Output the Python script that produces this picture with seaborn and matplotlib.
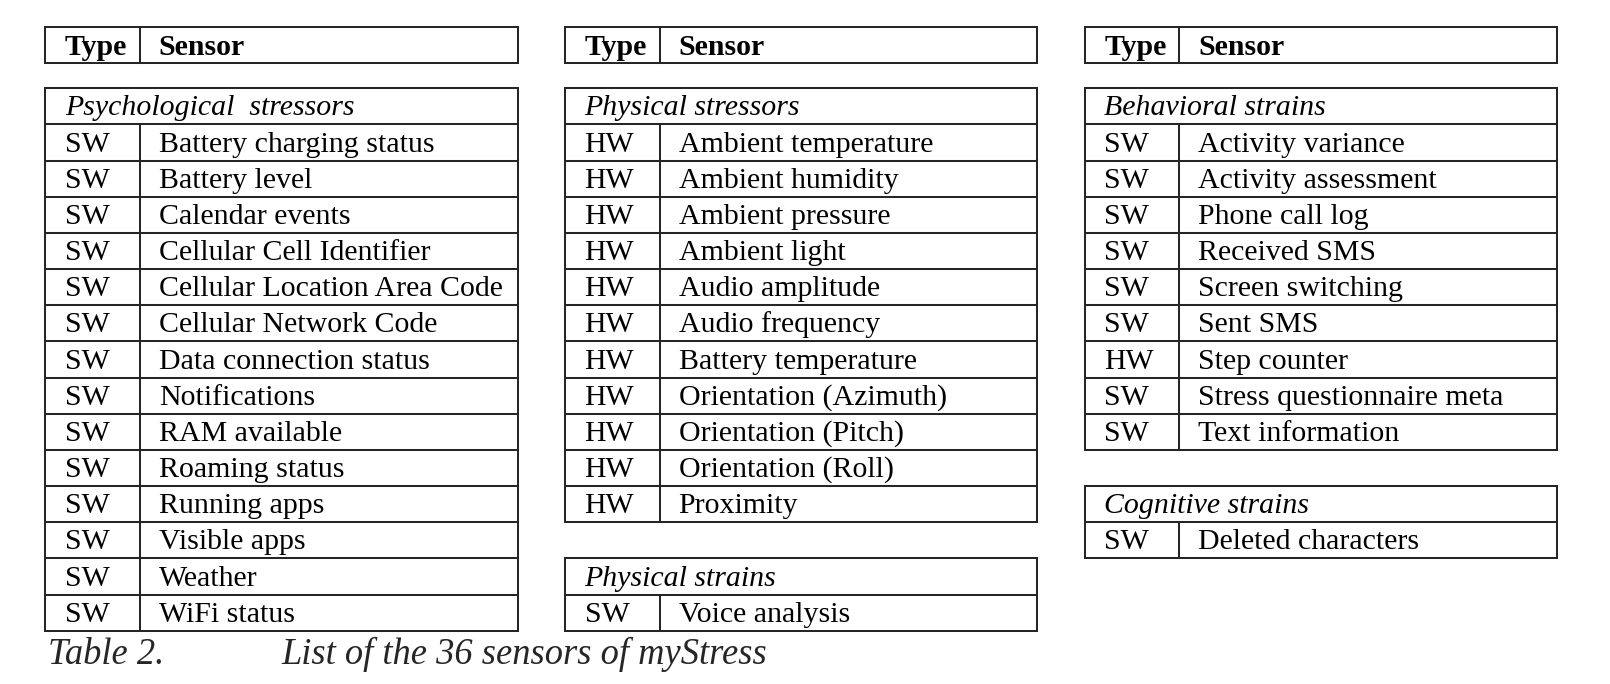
import matplotlib
matplotlib.use("Agg")
import matplotlib.pyplot as plt
import seaborn as sns

sns.set_style("white")
plt.rcParams['font.family'] = ['Liberation Serif', 'DejaVu Serif']

# table content
header = ["Type", "Sensor"]

psych_title = "Psychological  stressors"
psych_types = ["SW"] * 14
psych_sensors = ["Battery charging status", "Battery level", "Calendar events",
                 "Cellular Cell Identifier", "Cellular Location Area Code",
                 "Cellular Network Code", "Data connection status", "Notifications",
                 "RAM available", "Roaming status", "Running apps", "Visible apps",
                 "Weather", "WiFi status"]

phys_title = "Physical stressors"
phys_types = ["HW"] * 11
phys_sensors = ["Ambient temperature", "Ambient humidity", "Ambient pressure",
                "Ambient light", "Audio amplitude", "Audio frequency",
                "Battery temperature", "Orientation (Azimuth)", "Orientation (Pitch)",
                "Orientation (Roll)", "Proximity"]

pstrain_title = "Physical strains"
pstrain_types = ["SW"]
pstrain_sensors = ["Voice analysis"]

behav_title = "Behavioral strains"
behav_types = ["SW", "SW", "SW", "SW", "SW", "SW", "HW", "SW", "SW"]
behav_sensors = ["Activity variance", "Activity assessment", "Phone call log",
                 "Received SMS", "Screen switching", "Sent SMS", "Step counter",
                 "Stress questionnaire meta", "Text information"]

cog_title = "Cognitive strains"
cog_types = ["SW"]
cog_sensors = ["Deleted characters"]

columns = [
    [(psych_title, psych_types, psych_sensors)],
    [(phys_title, phys_types, phys_sensors), (pstrain_title, pstrain_types, pstrain_sensors)],
    [(behav_title, behav_types, behav_sensors), (cog_title, cog_types, cog_sensors)],
]

caption_num = "Table 2."
caption_txt = "List of the 36 sensors of myStress"

W, H = 1610, 684
fig = plt.figure(figsize=(W / 100, H / 100), dpi=100)
ax = fig.add_axes([0, 0, 1, 1])
ax.set_xlim(0, W)
ax.set_ylim(H, 0)
ax.axis("off")

lefts = [45.3, 565.0, 1084.7]
tw = 472.3
cw = 94.7
rh = 36.16
head_top = 26.7
head_h = 36.0
body_top = 88.3
lc = "#262626"
lw = 1.45
fs = 21.5


def box(x0, y0, x1, y1):
    ax.plot([x0, x1, x1, x0, x0], [y0, y0, y1, y1, y0], color=lc, lw=lw,
            solid_joinstyle="miter", solid_capstyle="projecting")


def row(x0, y, h, t, s, bold=False, base=9):
    box(x0, y, x0 + tw, y + h)
    ax.plot([x0 + cw, x0 + cw], [y, y + h], color=lc, lw=lw)
    fw = "bold" if bold else "normal"
    ax.text(x0 + 19.5, y + h - base, t, fontsize=fs, fontweight=fw,
            va="baseline", ha="left", color="black")
    ax.text(x0 + cw + 18.8, y + h - base, s, fontsize=fs, fontweight=fw,
            va="baseline", ha="left", color="black")


for x0, blocks in zip(lefts, columns):
    row(x0, head_top, head_h, header[0], header[1], bold=True, base=8)
    r = 0
    for title, types, sensors in blocks:
        y = body_top + r * rh
        box(x0, y, x0 + tw, y + rh)
        ax.text(x0 + 19.5, y + rh - 9, title, fontsize=fs, style="italic",
                va="baseline", ha="left", color="black")
        r += 1
        for t, s in zip(types, sensors):
            row(x0, body_top + r * rh, rh, t, s)
            r += 1
        r += 1

ax.text(48.3, 664.5, caption_num, fontsize=26.3, style="italic", va="baseline", ha="left")
ax.text(281.6, 664.5, caption_txt, fontsize=26.3, style="italic", va="baseline", ha="left")

fig.savefig("out.png", dpi=100, facecolor="white")
